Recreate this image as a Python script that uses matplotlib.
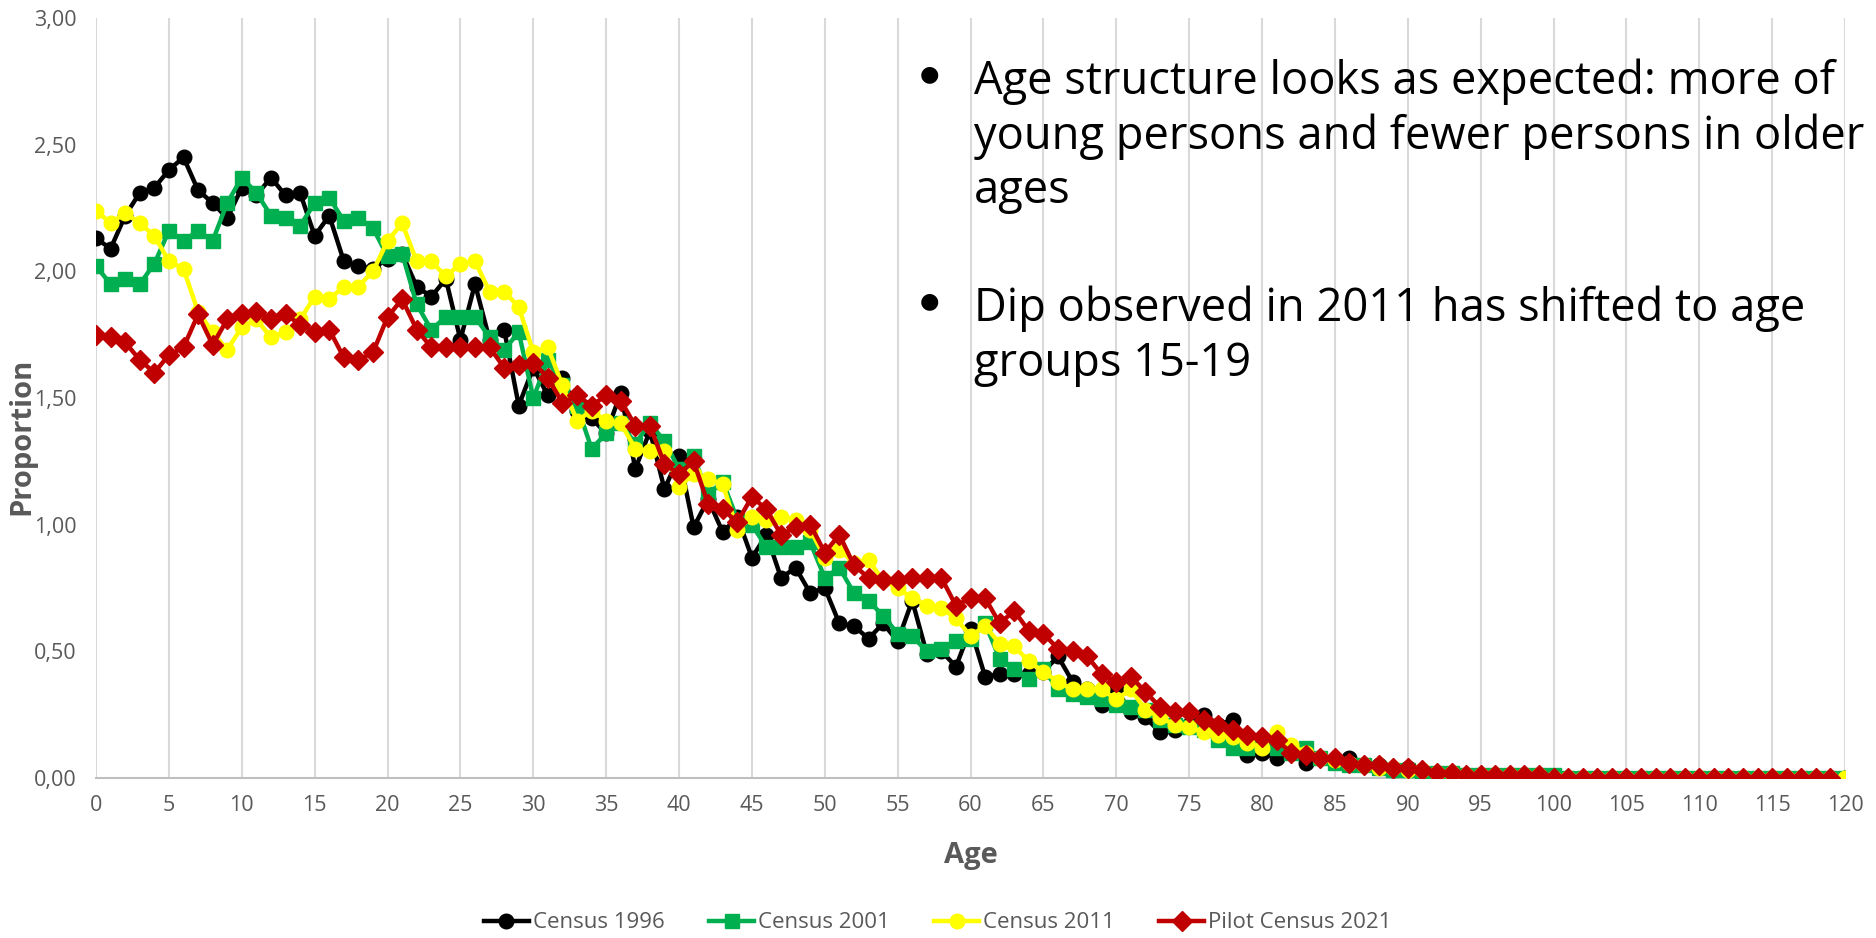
import matplotlib
matplotlib.use("Agg")
import matplotlib.pyplot as plt
import numpy as np
from matplotlib.ticker import FuncFormatter, MultipleLocator

# proportion of population by single year of age
ages = np.arange(0, 121)

census_1996 = [
    2.13, 2.09, 2.22, 2.31, 2.33, 2.40, 2.45, 2.32, 2.27, 2.21,
    2.33, 2.30, 2.37, 2.30, 2.31, 2.14, 2.22, 2.04, 2.02, 2.01,
    2.05, 2.07, 1.94, 1.90, 1.97, 1.73, 1.95, 1.73, 1.77, 1.47,
    1.62, 1.51, 1.58, 1.45, 1.42, 1.36, 1.52, 1.22, 1.37, 1.14,
    1.27, 0.99, 1.10, 0.97, 1.03, 0.87, 0.96, 0.79, 0.83, 0.73,
    0.75, 0.61, 0.60, 0.55, 0.61, 0.54, 0.70, 0.49, 0.50, 0.44,
    0.59, 0.40, 0.41, 0.41, 0.41, 0.42, 0.48, 0.38, 0.35, 0.29,
    0.35, 0.26, 0.24, 0.18, 0.19, 0.21, 0.25, 0.21, 0.23, 0.09,
    0.10, 0.08, 0.11, 0.06, 0.08, 0.07, 0.08, 0.05, 0.05, 0.03,
    0.04, 0.02, 0.02, 0.02, 0.01, 0.01, 0.01, 0.01, 0.01, 0.01,
    0.00, 0.00, 0.00, 0.00, 0.00, 0.00, 0.00, 0.00, 0.00, 0.00,
    0.00, 0.00, 0.00, 0.00, 0.00, 0.00, 0.00, 0.00, 0.00, 0.00,
    0.00,
]

census_2001 = [
    2.02, 1.95, 1.97, 1.95, 2.03, 2.16, 2.12, 2.16, 2.12, 2.27,
    2.37, 2.31, 2.22, 2.21, 2.18, 2.27, 2.29, 2.20, 2.21, 2.17,
    2.06, 2.07, 1.87, 1.77, 1.82, 1.82, 1.82, 1.74, 1.69, 1.76,
    1.50, 1.65, 1.55, 1.47, 1.30, 1.36, 1.40, 1.32, 1.40, 1.33,
    1.22, 1.27, 1.12, 1.17, 1.02, 1.00, 0.91, 0.91, 0.91, 0.93,
    0.79, 0.83, 0.73, 0.70, 0.64, 0.57, 0.56, 0.50, 0.51, 0.54,
    0.55, 0.61, 0.47, 0.43, 0.39, 0.43, 0.35, 0.33, 0.32, 0.31,
    0.29, 0.28, 0.27, 0.23, 0.21, 0.20, 0.19, 0.15, 0.12, 0.12,
    0.13, 0.12, 0.10, 0.12, 0.08, 0.06, 0.05, 0.05, 0.04, 0.03,
    0.03, 0.02, 0.02, 0.02, 0.01, 0.01, 0.01, 0.01, 0.01, 0.01,
    0.01, 0.00, 0.00, 0.00, 0.00, 0.00, 0.00, 0.00, 0.00, 0.00,
    0.00, 0.00, 0.00, 0.00, 0.00, 0.00, 0.00, 0.00, 0.00, 0.00,
    0.00,
]

census_2011 = [
    2.24, 2.19, 2.23, 2.19, 2.14, 2.04, 2.01, 1.84, 1.76, 1.69,
    1.78, 1.81, 1.74, 1.76, 1.81, 1.90, 1.89, 1.94, 1.94, 2.00,
    2.12, 2.19, 2.04, 2.04, 1.98, 2.03, 2.04, 1.92, 1.92, 1.86,
    1.68, 1.70, 1.55, 1.41, 1.45, 1.41, 1.40, 1.30, 1.29, 1.29,
    1.15, 1.20, 1.18, 1.16, 0.98, 1.03, 1.02, 1.03, 1.02, 0.98,
    0.87, 0.90, 0.85, 0.86, 0.78, 0.75, 0.71, 0.68, 0.67, 0.63,
    0.56, 0.60, 0.53, 0.52, 0.46, 0.42, 0.38, 0.35, 0.35, 0.35,
    0.31, 0.35, 0.27, 0.24, 0.21, 0.20, 0.18, 0.17, 0.16, 0.14,
    0.12, 0.18, 0.13, 0.10, 0.08, 0.07, 0.06, 0.05, 0.04, 0.04,
    0.03, 0.03, 0.02, 0.02, 0.01, 0.01, 0.01, 0.01, 0.01, 0.01,
    0.00, 0.00, 0.00, 0.00, 0.00, 0.00, 0.00, 0.00, 0.00, 0.00,
    0.00, 0.00, 0.00, 0.00, 0.00, 0.00, 0.00, 0.00, 0.00, 0.00,
    0.00,
]

# pilot census stops at age 119
pilot_2021 = [
    1.75, 1.74, 1.72, 1.65, 1.60, 1.67, 1.70, 1.83, 1.71, 1.81,
    1.83, 1.84, 1.81, 1.83, 1.79, 1.76, 1.77, 1.66, 1.65, 1.68,
    1.82, 1.89, 1.77, 1.70, 1.70, 1.70, 1.70, 1.70, 1.62, 1.63,
    1.64, 1.58, 1.48, 1.51, 1.47, 1.51, 1.49, 1.39, 1.39, 1.24,
    1.20, 1.25, 1.08, 1.06, 1.01, 1.11, 1.06, 0.96, 0.99, 1.00,
    0.89, 0.96, 0.84, 0.79, 0.78, 0.78, 0.79, 0.79, 0.79, 0.68,
    0.71, 0.71, 0.61, 0.66, 0.58, 0.57, 0.51, 0.50, 0.48, 0.41,
    0.38, 0.40, 0.34, 0.28, 0.26, 0.26, 0.23, 0.21, 0.19, 0.17,
    0.16, 0.15, 0.10, 0.09, 0.08, 0.08, 0.06, 0.05, 0.05, 0.04,
    0.04, 0.03, 0.02, 0.02, 0.01, 0.01, 0.01, 0.01, 0.01, 0.01,
    0.00, 0.00, 0.00, 0.00, 0.00, 0.00, 0.00, 0.00, 0.00, 0.00,
    0.00, 0.00, 0.00, 0.00, 0.00, 0.00, 0.00, 0.00, 0.00, 0.00,
]

bullets = [
    "Age structure looks as expected: more of\nyoung persons and fewer persons in older\nages",
    "Dip observed in 2011 has shifted to age\ngroups 15-19",
]

plt.rcParams['font.family'] = ['Open Sans', 'DejaVu Sans']
grey = '#595959'

fig = plt.figure(figsize=(18.76, 9.38), dpi=100)
ax = fig.add_axes([0.0512, 0.1706, 0.9323, 0.8102])

ax.plot(ages, census_1996, color='black', lw=3.2, marker='o', ms=10.5,
        label='Census 1996', zorder=3)
ax.plot(ages, census_2001, color='#00b050', lw=3.2, marker='s', ms=10.5,
        label='Census 2001', zorder=4)
ax.plot(ages, census_2011, color='#ffff00', lw=3.2, marker='o', ms=10.5,
        label='Census 2011', zorder=5)
ax.plot(ages[:len(pilot_2021)], pilot_2021, color='#c00000', lw=3.2, marker='D',
        ms=10.5, label='Pilot Census 2021', zorder=6)

ax.set_xlim(0, 120)
ax.set_ylim(0, 3.0)
ax.xaxis.set_major_locator(MultipleLocator(5))
ax.yaxis.set_major_locator(MultipleLocator(0.5))
ax.yaxis.set_major_formatter(FuncFormatter(lambda v, p: f"{v:.2f}".replace('.', ',')))
ax.grid(axis='x', color='#d9d9d9', lw=1.5)
ax.set_axisbelow(True)
for s in ['top', 'right', 'left']:
    ax.spines[s].set_visible(False)
ax.spines['bottom'].set_color('#bfbfbf')
ax.spines['bottom'].set_linewidth(1.5)
ax.tick_params(length=0, labelsize=15.5, labelcolor=grey, pad=12)
ax.tick_params(axis='y', pad=14)

ax.set_xlabel('Age', fontsize=21, fontweight='bold', color=grey, labelpad=18)
ax.set_ylabel('Proportion', fontsize=21, fontweight='bold', color=grey)
ax.yaxis.set_label_coords(-0.034, 0.45)

# bullet text box
ys = [0.9376, 0.6953]
for y, txt in zip(ys, bullets):
    fig.text(0.4955, y - 0.017, "\u25cf", fontsize=16, va='center', ha='center',
             color='black')
    fig.text(0.519, y, txt, fontsize=32.6, va='top', ha='left', color='black',
             linespacing=1.24)

fig.legend(loc='center', ncol=4, frameon=False, fontsize=16,
           bbox_to_anchor=(0.5, 0.016), handlelength=2.0, columnspacing=2.0,
           labelcolor=grey, handletextpad=0.2)

fig.savefig('out.png', dpi=100)
